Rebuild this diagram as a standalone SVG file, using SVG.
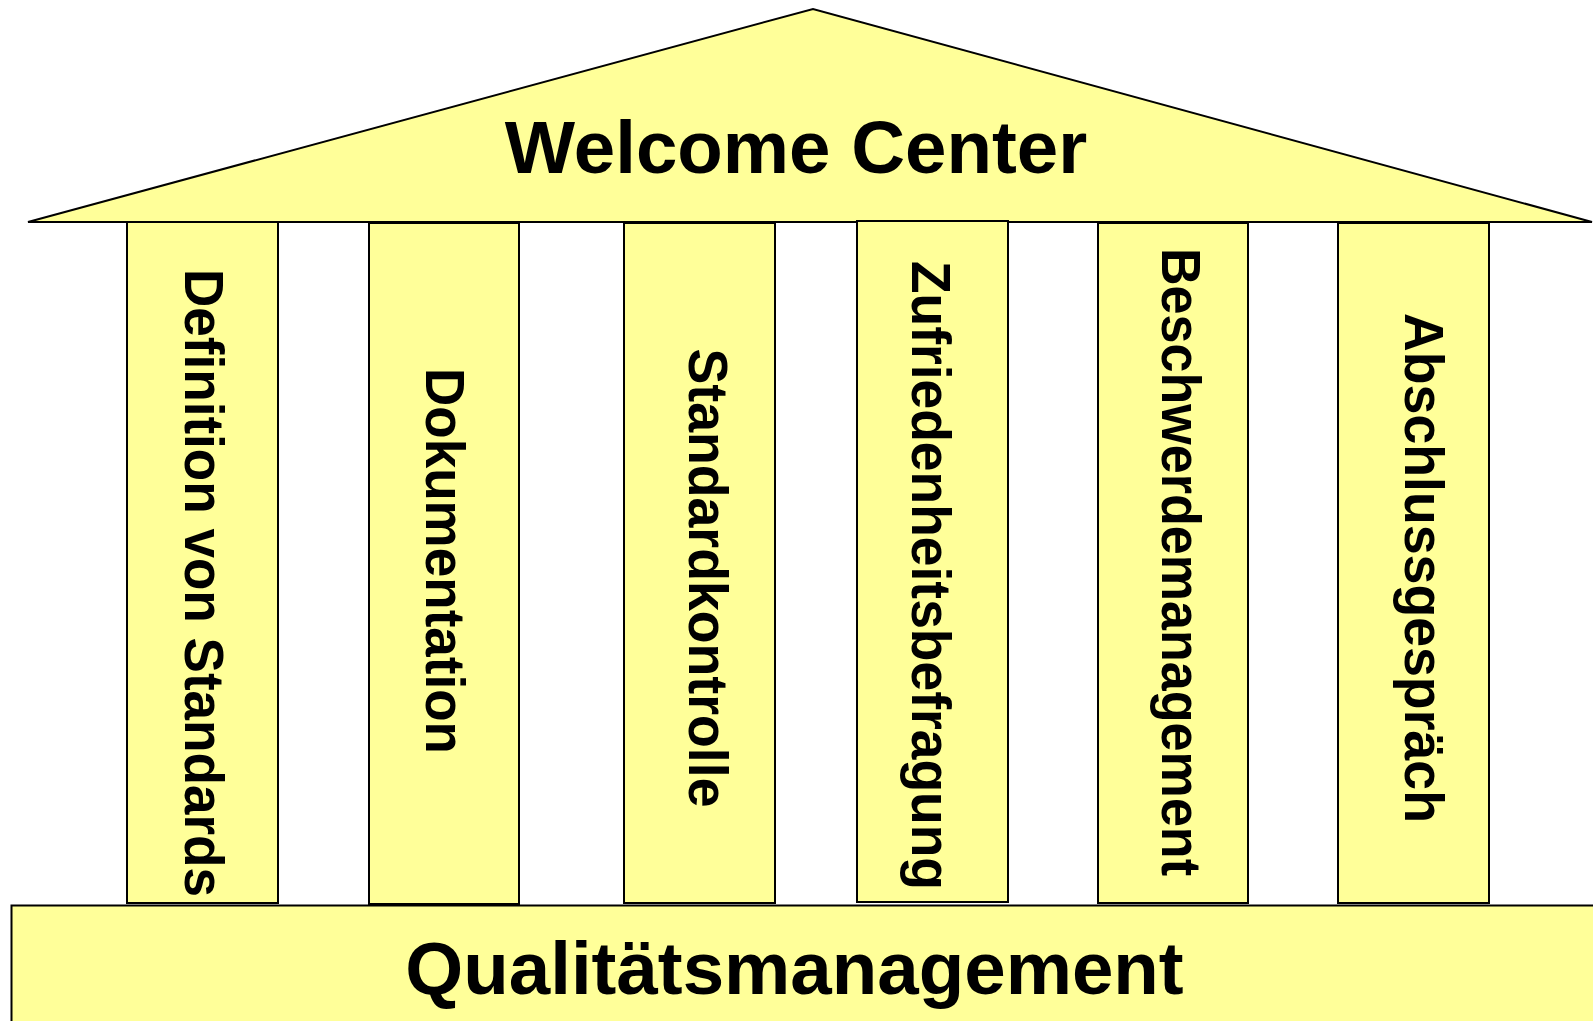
<svg xmlns="http://www.w3.org/2000/svg" width="1593" height="1021" viewBox="0 0 1593 1021">
<style>
.shape{fill:#FFFF99;stroke:#000;stroke-width:2}
.big{font-family:"Liberation Sans",Arial,sans-serif;font-weight:bold;font-size:74.5px;fill:#000;text-anchor:middle}
.col{font-family:"Liberation Sans",Arial,sans-serif;font-weight:bold;font-size:55px;fill:#000;text-anchor:middle}
</style>
<rect width="1593" height="1021" fill="#fff"/>
<g id="roof">
<polygon class="shape" points="28,222 813,9 1592,222"/>
<text class="big" x="796" y="173">Welcome Center</text>
</g>
<g id="base">
<rect class="shape" x="11.5" y="905.5" width="1600" height="130"/>
<text class="big" x="794.5" y="993.5">Qualitätsmanagement</text>
</g>
<g id="col1">
<rect class="shape" x="127" y="222" width="151" height="681"/>
<text class="col" transform="translate(185,583) rotate(90)" textLength="628" lengthAdjust="spacingAndGlyphs">Definition von Standards</text>
</g>
<g id="col2">
<rect class="shape" x="369" y="223" width="150" height="681"/>
<text class="col" transform="translate(426,561) rotate(90)" textLength="386" lengthAdjust="spacingAndGlyphs">Dokumentation</text>
</g>
<g id="col3">
<rect class="shape" x="624" y="223" width="151" height="680"/>
<text class="col" transform="translate(689,578) rotate(90)" textLength="459" lengthAdjust="spacingAndGlyphs">Standardkontrolle</text>
</g>
<g id="col4">
<rect class="shape" x="857" y="221" width="151" height="681"/>
<text class="col" transform="translate(911.7,575.4) rotate(90)" textLength="629" lengthAdjust="spacingAndGlyphs">Zufriedenheitsbefragung</text>
</g>
<g id="col5">
<rect class="shape" x="1098" y="223" width="150" height="680"/>
<text class="col" transform="translate(1161.7,562) rotate(90)" textLength="628" lengthAdjust="spacingAndGlyphs">Beschwerdemanagement</text>
</g>
<g id="col6">
<rect class="shape" x="1338" y="223" width="151" height="680"/>
<text class="col" transform="translate(1405,568) rotate(90)" textLength="510" lengthAdjust="spacingAndGlyphs">Abschlussgespräch</text>
</g>
<g id="connectors"></g>
</svg>
